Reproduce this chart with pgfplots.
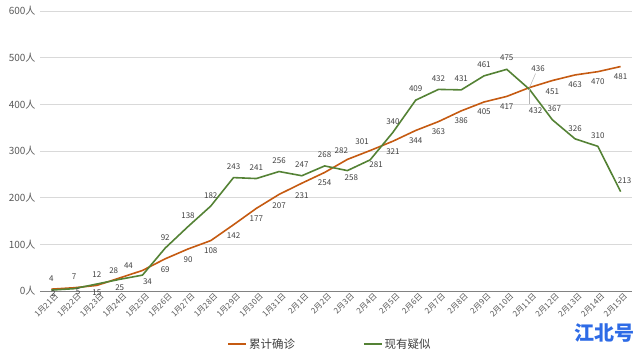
\documentclass[border=0pt]{standalone}
\usepackage{fontspec}
\setmainfont{Noto Sans CJK SC}
\usepackage{pgfplots}
\usepackage{pgfplotstable}
\pgfplotsset{compat=1.18}
\definecolor{corange}{RGB}{197,90,17}
\definecolor{cgreen}{RGB}{84,130,53}
\definecolor{cgrid}{RGB}{217,217,217}
\definecolor{ctick}{RGB}{89,89,89}
\definecolor{clabel}{RGB}{64,64,64}
\definecolor{cmark}{RGB}{46,107,230}

\pgfplotstableread{
x y dx dy
0 4 0 10
1 7 0 11
2 12 0 11
3 28 -6 7
4 44 -14 5
5 69 0 -11
6 90 0 -11
7 108 0 -10
8 142 0 -11
9 177 0 -10
10 207 0 -11
11 231 0 -12
12 254 0 -10.5
13 282 -6 9
14 301 -8 9
15 321 0 -10.5
16 344 0 -10
17 363 0 -10
18 386 0 -10
19 405 0 -10
20 417 0 -10
21 436 8.5 18.5
22 451 0 -11
23 463 0 -10
24 470 0 -10
25 481 0 -10
}\orangedata

\pgfplotstableread{
x y dx dy
0 2 2 -4
1 5 4 -3
2 15 0 -9
3 25 0 -8.5
4 34 5 -7
5 92 0 10
6 138 0 11
7 182 0 10
8 243 0 10.5
9 241 0 11
10 256 0 11
11 247 0 11
12 268 0 11
13 258 4 -7
14 281 6 -5
15 340 0 11
16 409 0 11
17 432 0 11
18 431 0 11
19 461 0 11
20 475 0 11.5
21 432 6 -21
22 367 2 11
23 326 0 10.5
24 310 0 10.5
25 213 4 11
}\greendata

\begin{document}
\begin{tikzpicture}
\begin{axis}[
  at={(40pt,60pt)}, anchor=south west,
  scale only axis, width=592pt, height=280pt,
  xmin=-0.5, xmax=25.5, ymin=0, ymax=600,
  axis line style={draw=none},
  axis x line*=bottom,
  major tick length=0pt,
  ymajorgrids, grid style={cgrid, line width=0.8pt},
  ytick={0,100,200,300,400,500,600},
  yticklabels={0人,100人,200人,300人,400人,500人,600人},
  yticklabel style={font=\fontsize{10}{12}\selectfont, text=ctick, xshift=-1pt},
  xtick={0,1,...,25},
  xticklabels={1月21日,1月22日,1月23日,1月24日,1月25日,1月26日,1月27日,1月28日,1月29日,1月30日,1月31日,2月1日,2月2日,2月3日,2月4日,2月5日,2月6日,2月7日,2月8日,2月9日,2月10日,2月11日,2月12日,2月13日,2月14日,2月15日},
  xticklabel style={font=\fontsize{8}{9}\selectfont, text=ctick, rotate=45, anchor=north east, inner sep=1pt, xshift=2pt, yshift=-2pt},
  /pgf/number format/assume math mode=true,
  clip=false,
  legend style={at={(0.49,-0.19)}, anchor=center, draw=none, fill=none,
    legend columns=2, font=\fontsize{11.5}{13}\selectfont, text=clabel,
    /tikz/every even column/.append style={column sep=66pt}},
  legend image code/.code={\draw[#1] (0pt,0pt) -- (18pt,0pt);},
  nodes near coords,
  every node near coord/.append style={anchor=center, font=\fontsize{8}{10}\selectfont, text=clabel,
    xshift=\ldx pt, yshift=\ldy pt, inner sep=0.5pt},
  visualization depends on={\thisrow{dx} \as \ldx},
  visualization depends on={\thisrow{dy} \as \ldy},
]
\draw[cgrid!60!black, line width=0.8pt] (axis cs:-0.5,0) -- (axis cs:25.5,0);
\addplot[corange, line width=1.6pt, mark=none] table[x=x,y=y]{\orangedata};
\addlegendentry{累计确诊}
\addplot[cgreen, line width=1.6pt, mark=none] table[x=x,y=y]{\greendata};
\addlegendentry{现有疑似}
\draw[gray!60, line width=0.5pt] (axis cs:21,436) -- ++(6pt,14pt);
\draw[gray!60, line width=0.5pt] (axis cs:21,432) -- ++(0pt,-15pt);
\end{axis}
\node[font=\bfseries\fontsize{20}{22}\selectfont, text=cmark] at (604pt,18pt) {江北号};
\pgfresetboundingbox
\path[use as bounding box] (0pt,0pt) rectangle (640pt,351pt);
\end{tikzpicture}
\end{document}
